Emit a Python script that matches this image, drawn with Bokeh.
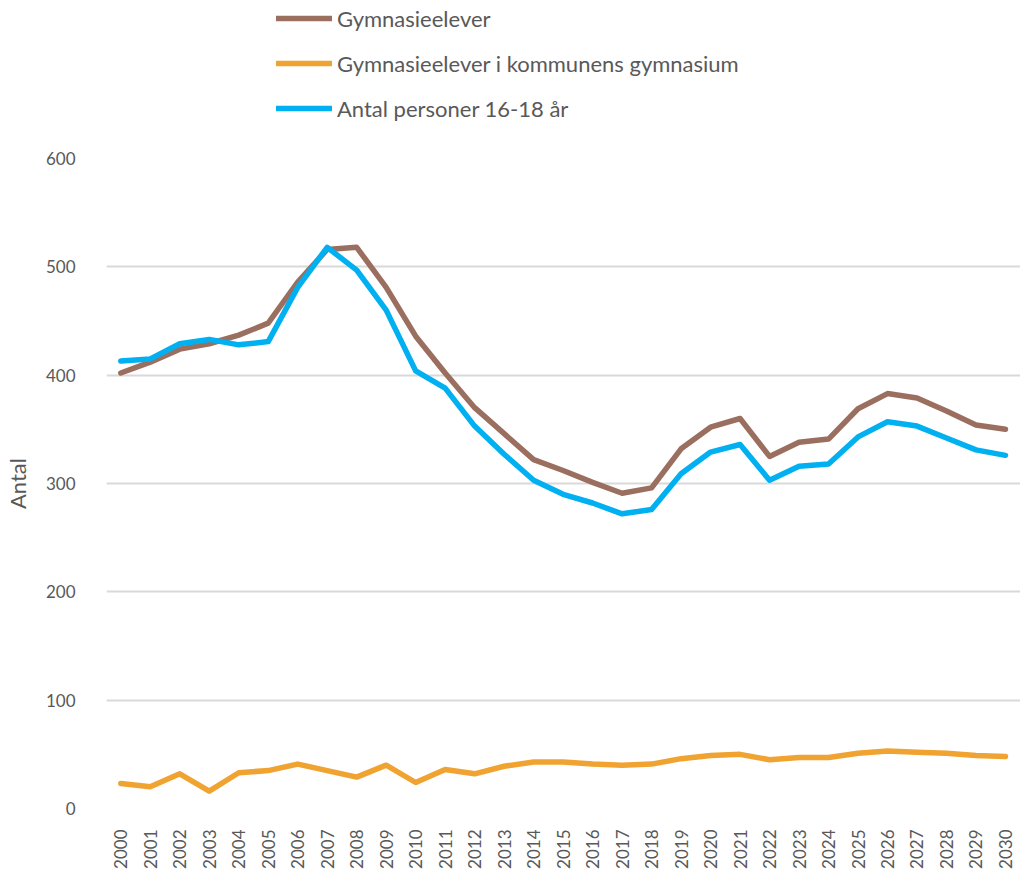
import math
from bokeh.plotting import figure
from bokeh.layouts import column
from bokeh.models import Range1d, FixedTicker, Legend, LegendItem
from bokeh.embed import file_html
from bokeh.resources import INLINE

years = list(range(2000, 2031))

gymnasieelever = [402, 412, 424, 429, 437, 448, 486, 516, 518, 481, 436,
                  402, 370, 346, 322, 312, 301, 291, 296, 332, 352,
                  360, 325, 338, 341, 369, 383, 379, 367, 354, 350]

kommunens_gymnasium = [23, 20, 32, 16, 33, 35, 41, 35, 29, 40, 24,
                       36, 32, 39, 43, 43, 41, 40, 41, 46, 49,
                       50, 45, 47, 47, 51, 53, 52, 51, 49, 48]

personer_16_18 = [413, 415, 429, 433, 428, 431, 481, 518, 497, 460, 404,
                  388, 353, 327, 303, 290, 282, 272, 276, 309, 329,
                  336, 303, 316, 318, 343, 357, 353, 342, 331, 326]

y_ticks = [0, 100, 200, 300, 400, 500, 600]

series_names = ["Gymnasieelever", "Gymnasieelever i kommunens gymnasium", "Antal personer 16-18 år"]
colors = ["#9B6F5F", "#F0A330", "#00B0F0"]
series = [gymnasieelever, kommunens_gymnasium, personer_16_18]

FONT = "Lato"
TEXT = "#595959"
LW = 5.5

# ---- main chart ----
p = figure(width=1020, height=727, output_backend="svg", toolbar_location=None,
           x_range=Range1d(1999.516, 2030.51), y_range=Range1d(0, 600),
           min_border_left=105, min_border_right=0, min_border_top=12,
           min_border_bottom=65, outline_line_color=None)

for vals, c in zip(series, colors):
    p.line(years, vals, line_color=c, line_width=LW, line_join="round", line_cap="round")

p.xgrid.grid_line_color = None
p.ygrid.grid_line_color = "#D9D9D9"
p.ygrid.grid_line_width = 2
p.ygrid.ticker = FixedTicker(ticks=y_ticks)

p.xaxis.ticker = FixedTicker(ticks=years)
p.yaxis.ticker = FixedTicker(ticks=y_ticks)
for ax in (p.xaxis[0], p.yaxis[0]):
    ax.axis_line_color = None
    ax.major_tick_line_color = None
    ax.minor_tick_line_color = None
    ax.major_label_text_font = FONT
    ax.major_label_text_font_size = "17px"
    ax.major_label_text_color = TEXT

p.xaxis.major_label_orientation = math.pi / 2
p.xaxis.major_label_standoff = 15
p.yaxis.major_label_standoff = 25
p.yaxis.axis_label = "Antal"
p.yaxis.axis_label_text_font = FONT
p.yaxis.axis_label_text_font_size = "22px"
p.yaxis.axis_label_text_font_style = "normal"
p.yaxis.axis_label_text_color = TEXT
p.yaxis.axis_label_standoff = 12

# ---- legend strip above the chart (its lines lie outside its view; only the legend shows) ----
lg = figure(width=1020, height=146, output_backend="svg", toolbar_location=None,
            x_range=Range1d(0, 1), y_range=Range1d(0, 1),
            min_border_left=105, min_border_right=0, min_border_top=0, min_border_bottom=0,
            outline_line_color=None)
lg.axis.visible = False
lg.grid.visible = False
legend_renderers = [lg.line(years, vals, line_color=c, line_width=LW, line_cap="round")
                    for vals, c in zip(series, colors)]

legend = Legend(items=[LegendItem(label=n, renderers=[r]) for n, r in zip(series_names, legend_renderers)],
                location=(170, 22), orientation="vertical",
                padding=0, margin=0, spacing=13, glyph_width=56, glyph_height=32,
                label_height=32, label_standoff=5,
                label_text_font=FONT, label_text_font_size="22px", label_text_color=TEXT,
                border_line_color=None, background_fill_alpha=0)
lg.add_layout(legend, "center")

layout = column(lg, p, spacing=0)

open("out.html", "w").write(file_html(layout, INLINE))
